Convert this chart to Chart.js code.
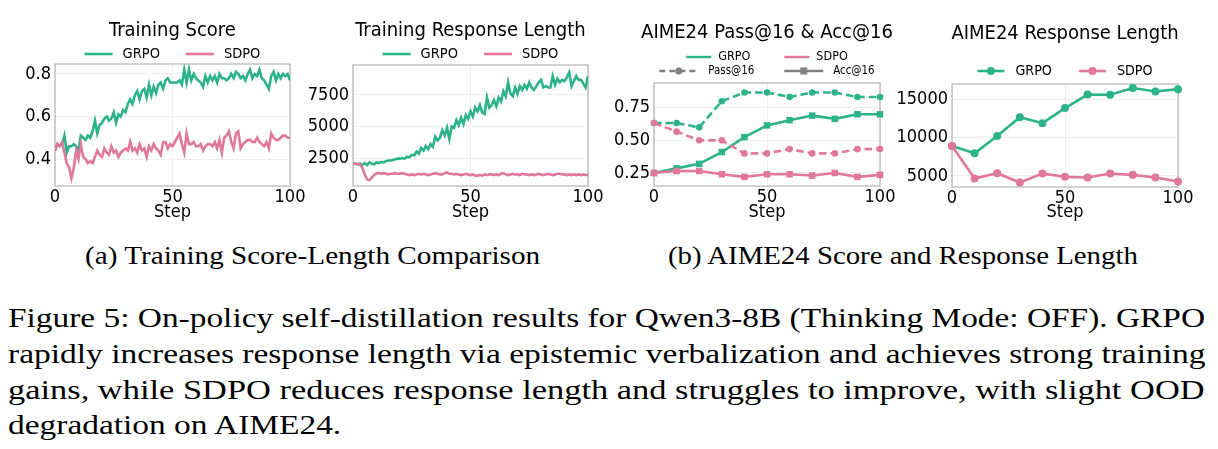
<!DOCTYPE html>
<html>
<head>
<meta charset="utf-8">
<script src="https://cdn.jsdelivr.net/npm/chart.js@4.4.1/dist/chart.umd.min.js"></script>
<style>
  html, body { margin: 0; padding: 0; background: #fff; }
  #page { position: relative; width: 1218px; height: 449px; overflow: hidden; background: #fff; }
  #page canvas { position: absolute; top: 0; }
  .sub, .cap {
    position: absolute; white-space: nowrap; color: #000;
    font-family: "Liberation Serif", "DejaVu Serif", serif;
    transform-origin: left center;
  }
  .sub { top: 241px; font-size: 26px; line-height: 30px; }
  .cap { left: 8px; font-size: 28px; line-height: 36px; }
</style>
</head>
<body>
<div id="page">
  <canvas id="scoreChart" width="345" height="225" style="left:0px"></canvas>
  <canvas id="lengthChart" width="345" height="225" style="left:298px"></canvas>
  <canvas id="aimeScoreChart" width="334" height="225" style="left:600px"></canvas>
  <canvas id="aimeLengthChart" width="340" height="225" style="left:895px"></canvas>

  <div class="sub" data-w="455" style="left:85px">(a) Training Score-Length Comparison</div>
  <div class="sub" data-w="470" style="left:668px">(b) AIME24 Score and Response Length</div>

  <div class="cap" data-w="1197" style="top:300px">Figure 5: On-policy self-distillation results for Qwen3-8B (Thinking Mode: OFF). GRPO</div>
  <div class="cap" data-w="1197" style="top:336px">rapidly increases response length via epistemic verbalization and achieves strong training</div>
  <div class="cap" data-w="1197" style="top:372px">gains, while SDPO reduces response length and struggles to improve, with slight OOD</div>
  <div class="cap" data-w="333" style="top:407px">degradation on AIME24.</div>
</div>

<script>
const FONT = "'DejaVu Sans Condensed', 'DejaVu Sans', sans-serif";
const GREEN = '#2cb38a';
const PINK = '#e0789b';
const GRAY = '#808080';

// ---- training curves (step 0..100) ----
const trainSteps = Array.from({ length: 101 }, (_, i) => i);

const grpoScore = [
  0.44, 0.47, 0.46, 0.47, 0.51, 0.43, 0.46, 0.46, 0.47, 0.46,
  0.44, 0.51, 0.50, 0.49, 0.51, 0.50, 0.53, 0.58, 0.52, 0.56,
  0.57, 0.59, 0.60, 0.58, 0.59, 0.62, 0.57, 0.61, 0.60, 0.63,
  0.62, 0.66, 0.68, 0.66, 0.70, 0.72, 0.68, 0.72, 0.73, 0.69,
  0.75, 0.70, 0.74, 0.71, 0.75, 0.76, 0.73, 0.77, 0.78, 0.76,
  0.76, 0.76, 0.76, 0.77, 0.75, 0.82, 0.76, 0.82, 0.77, 0.80,
  0.78, 0.77, 0.76, 0.74, 0.79, 0.76, 0.79, 0.77, 0.79, 0.76,
  0.80, 0.78, 0.78, 0.77, 0.78, 0.80, 0.78, 0.81, 0.80, 0.78,
  0.79, 0.77, 0.80, 0.82, 0.78, 0.80, 0.79, 0.82, 0.78, 0.77,
  0.75, 0.73, 0.79, 0.81, 0.77, 0.80, 0.78, 0.80, 0.79, 0.80,
  0.77
];
const sdpoScore = [
  0.44, 0.47, 0.46, 0.48, 0.43, 0.38, 0.36, 0.31, 0.36, 0.44,
  0.40, 0.47, 0.41, 0.40, 0.38, 0.39, 0.38, 0.41, 0.44, 0.42,
  0.41, 0.45, 0.43, 0.42, 0.46, 0.43, 0.44, 0.41, 0.43, 0.44,
  0.45, 0.44, 0.48, 0.44, 0.45, 0.43, 0.47, 0.44, 0.45, 0.41,
  0.46, 0.44, 0.47, 0.45, 0.44, 0.42, 0.48, 0.48, 0.45, 0.47,
  0.46, 0.48, 0.50, 0.52, 0.47, 0.43, 0.52, 0.47, 0.47, 0.48,
  0.46, 0.46, 0.47, 0.44, 0.46, 0.47, 0.47, 0.46, 0.48, 0.45,
  0.49, 0.43, 0.50, 0.51, 0.53, 0.48, 0.45, 0.52, 0.53, 0.45,
  0.47, 0.48, 0.49, 0.49, 0.48, 0.48, 0.50, 0.48, 0.47, 0.46,
  0.48, 0.45, 0.52, 0.50, 0.49, 0.49, 0.50, 0.51, 0.51, 0.50,
  0.50
];
const grpoTrainLen = [
  2050, 2050, 2000, 2050, 1950, 2100, 1950, 2150, 2050, 2000,
  2150, 2100, 2200, 2150, 2250, 2300, 2300, 2350, 2400, 2450,
  2450, 2500, 2450, 2600, 2550, 2750, 2700, 3000, 2850, 3300,
  3100, 3450, 3200, 3600, 3400, 4200, 3900, 4100, 4700, 4300,
  4900, 4000, 5000, 4900, 5500, 5100, 5700, 5200, 5900, 5600,
  6200, 5800, 6500, 6200, 6700, 6100, 6000, 7300, 6500, 6700,
  7100, 6600, 7300, 7000, 7800, 7400, 8500, 7600, 7400, 8100,
  7600, 8200, 7900, 8300, 8000, 8500, 8100, 7900, 8200, 8500,
  8700, 8100, 8200, 8100, 8100, 9000, 8300, 8800, 8500, 8700,
  8600, 8900, 9300, 8200, 8600, 9000, 8700, 8700, 8400, 8100,
  9000
];
const sdpoTrainLen = [
  2050, 2050, 2050, 2000, 1700, 1200, 800, 750, 950, 1150,
  1300, 1300, 1250, 1300, 1250, 1200, 1250, 1250, 1300, 1250,
  1250, 1300, 1250, 1200, 1150, 1200, 1150, 1200, 1250, 1200,
  1250, 1200, 1150, 1200, 1250, 1300, 1250, 1200, 1200, 1300,
  1350, 1250, 1250, 1200, 1250, 1200, 1150, 1200, 1250, 1200,
  1150, 1200, 1100, 1100, 1150, 1100, 1200, 1150, 1200, 1200,
  1150, 1200, 1150, 1250, 1300, 1200, 1150, 1200, 1250, 1200,
  1200, 1150, 1250, 1200, 1200, 1150, 1200, 1150, 1200, 1250,
  1200, 1150, 1200, 1250, 1200, 1150, 1200, 1250, 1250, 1200,
  1200, 1150, 1200, 1150, 1200, 1150, 1200, 1150, 1200, 1150,
  1150
];

// ---- AIME24 evaluation (every 10 steps) ----
const evalSteps = [0, 10, 20, 30, 40, 50, 60, 70, 80, 90, 100];
const grpoPass = [0.633, 0.633, 0.600, 0.800, 0.867, 0.867, 0.833, 0.867, 0.867, 0.833, 0.833];
const grpoAcc = [0.250, 0.285, 0.320, 0.410, 0.525, 0.615, 0.655, 0.690, 0.665, 0.700, 0.700];
const sdpoPass = [0.633, 0.567, 0.500, 0.500, 0.400, 0.400, 0.433, 0.400, 0.400, 0.433, 0.433];
const sdpoAcc = [0.250, 0.265, 0.265, 0.240, 0.220, 0.240, 0.240, 0.230, 0.250, 0.220, 0.235];
const grpoEvalLen = [8900, 7950, 10200, 12650, 11870, 13830, 15600, 15570, 16440, 16000, 16300];
const sdpoEvalLen = [8900, 4650, 5350, 4130, 5300, 4870, 4780, 5300, 5130, 4780, 4260];

// ---- ticks ----
const stepTicks = [0, 50, 100];
const scoreTicks = [0.4, 0.6, 0.8];
const scoreTickLabels = ['0.4', '0.6', '0.8'];
const trainLenTicks = [2500, 5000, 7500];
const trainLenTickLabels = ['2500', '5000', '7500'];
const aimeScoreTicks = [0.25, 0.5, 0.75];
const aimeScoreTickLabels = ['0.25', '0.50', '0.75'];
const aimeLenTicks = [5000, 10000, 15000];
const aimeLenTickLabels = ['5000', '10000', '15000'];

const toPoints = (xs, ys) => xs.map((x, i) => ({ x: x, y: ys[i] }));

// plot frame on all four sides, like matplotlib spines
const frame = {
  id: 'frame',
  beforeDatasetsDraw(chart) {
    const a = chart.chartArea, ctx = chart.ctx;
    ctx.save();
    ctx.strokeStyle = '#b4b4b4';
    ctx.lineWidth = 1.2;
    ctx.strokeRect(a.left, a.top, a.right - a.left, a.bottom - a.top);
    ctx.restore();
  }
};

function drawKey(ctx, x, y, k) {
  ctx.save();
  ctx.strokeStyle = k.color;
  ctx.fillStyle = k.color;
  ctx.lineWidth = k.lw || 2.2;
  ctx.setLineDash(k.dash || []);
  ctx.beginPath();
  ctx.moveTo(x, y);
  ctx.lineTo(x + k.len, y);
  ctx.stroke();
  ctx.setLineDash([]);
  if (k.marker === 'circle') {
    ctx.beginPath();
    ctx.arc(x + k.len / 2, y, k.size, 0, Math.PI * 2);
    ctx.fill();
  } else if (k.marker === 'square') {
    ctx.fillRect(x + k.len / 2 - k.size, y - k.size, 2 * k.size, 2 * k.size);
  }
  ctx.restore();
}

// draws the line/marker symbols into the legend boxes (+ optional style row)
const legendKeys = {
  id: 'legendKeys',
  beforeLayout(chart, args, opts) {
    const lg = chart.legend;
    if (lg && !lg._trimmed) {
      const fit = lg.fit;
      lg.fit = function () { fit.call(this); this.height += (opts.trim || 0); };
      lg._trimmed = true;
    }
  },
  afterDraw(chart, args, opts) {
    const ctx = chart.ctx;
    const lg = chart.legend;
    if (opts.keys && lg && lg.legendHitBoxes) {
      lg.legendHitBoxes.forEach((hb, i) => {
        drawKey(ctx, hb.left, hb.top + hb.height / 2, opts.keys[i]);
      });
    }
    if (opts.extra) {
      const e = opts.extra;
      ctx.save();
      ctx.font = e.size + 'px ' + FONT;
      const widths = e.items.map(it => it.key.len + e.gap + ctx.measureText(it.text).width);
      const total = widths.reduce((a, b) => a + b, 0) + e.spacing * (widths.length - 1);
      const area = chart.chartArea;
      let x = (area.left + area.right) / 2 - total / 2;
      const y = area.top - e.offset;
      e.items.forEach((it, i) => {
        drawKey(ctx, x, y, it.key);
        ctx.fillStyle = '#000';
        ctx.textBaseline = 'middle';
        ctx.textAlign = 'left';
        ctx.fillText(it.text, x + it.key.len + e.gap, y);
        x += widths[i] + e.spacing;
      });
      ctx.restore();
    }
  }
};

function makeChart(id, c) {
  const scales = {
    x: {
      type: 'linear', min: 0, max: 100,
      afterBuildTicks: s => { s.ticks = stepTicks.map(v => ({ value: v })); },
      ticks: { color: '#000', font: { family: FONT, size: 18 }, padding: 1, maxRotation: 0, autoSkip: false },
      grid: { color: '#eeeeee', lineWidth: 1, drawTicks: false },
      border: { display: false },
      title: { display: true, text: 'Step', color: '#000', font: { family: FONT, size: 18 }, padding: { top: 0, bottom: 0 } },
      afterFit: s => { s.height = c.xh; }
    },
    y: {
      type: 'linear', min: c.yMin, max: c.yMax,
      afterBuildTicks: s => { s.ticks = c.yTicks.map(v => ({ value: v })); },
      ticks: { color: '#000', font: { family: FONT, size: 18 }, padding: 4, callback: (v, i) => c.yLabels[i] },
      grid: { color: '#eeeeee', lineWidth: 1, drawTicks: false },
      border: { display: false },
      afterFit: s => { s.width = c.yw; }
    },
    yr: {
      type: 'linear', position: 'right', display: true,
      ticks: { display: false }, grid: { display: false }, border: { display: false },
      afterFit: s => { s.width = c.yw; }
    }
  };
  if (c.topGap) {
    scales.xt = {
      type: 'linear', position: 'top', display: true,
      ticks: { display: false }, grid: { display: false }, border: { display: false },
      afterFit: s => { s.height = c.topGap; }
    };
  }
  return new Chart(document.getElementById(id), {
    type: 'line',
    data: { datasets: c.datasets },
    plugins: [frame, legendKeys],
    options: {
      responsive: false,
      animation: false,
      devicePixelRatio: 1,
      layout: { padding: { top: 0, left: 0, right: 0, bottom: c.padBottom } },
      scales: scales,
      plugins: {
        title: {
          display: true, text: c.title, color: '#000',
          font: { family: FONT, size: 20, weight: 'normal' },
          padding: { top: c.titleTop, bottom: c.titleBottom }
        },
        legend: {
          display: true, position: 'top',
          labels: {
            color: '#000',
            font: { family: FONT, size: c.legendSize },
            boxWidth: c.boxWidth, boxHeight: 4,
            padding: c.legendPad,
            generateLabels: () => c.legendText.map((t, i) => ({
              text: t, fillStyle: 'rgba(0,0,0,0)', strokeStyle: 'rgba(0,0,0,0)',
              lineWidth: 0, hidden: false, datasetIndex: i, fontColor: '#000'
            }))
          }
        },
        legendKeys: { keys: c.keys, trim: c.trim || 0, extra: c.extra },
        tooltip: { enabled: false }
      }
    }
  });
}

const lineDs = (label, xs, ys, color, order) => ({
  label: label, data: toPoints(xs, ys), borderColor: color, backgroundColor: color,
  borderWidth: 2.6, pointRadius: 0, tension: 0, order: order
});

// (a) training score
makeChart('scoreChart', {
  title: 'Training Score', titleTop: 19, titleBottom: -22.25,
  legendText: ['GRPO', 'SDPO'], legendSize: 14.5, legendPad: 26, boxWidth: 30.75, trim: -7.25,
  keys: [{ color: GREEN, len: 28, lw: 2.6 }, { color: PINK, len: 28, lw: 2.6 }],
  yMin: 0.273, yMax: 0.847, yTicks: scoreTicks, yLabels: scoreTickLabels, yw: 55,
  xh: 37, padBottom: 2,
  datasets: [
    lineDs('GRPO', trainSteps, grpoScore, GREEN, 2),
    lineDs('SDPO', trainSteps, sdpoScore, PINK, 1)
  ]
});

// (a) training response length
makeChart('lengthChart', {
  title: 'Training Response Length', titleTop: 19, titleBottom: -22.25,
  legendText: ['GRPO', 'SDPO'], legendSize: 14.5, legendPad: 26, boxWidth: 30.75, trim: -6.25,
  keys: [{ color: GREEN, len: 28, lw: 2.6 }, { color: PINK, len: 28, lw: 2.6 }],
  yMin: 280, yMax: 9880, yTicks: trainLenTicks, yLabels: trainLenTickLabels, yw: 55,
  xh: 37, padBottom: 2,
  datasets: [
    lineDs('GRPO', trainSteps, grpoTrainLen, GREEN, 2),
    lineDs('SDPO', trainSteps, sdpoTrainLen, PINK, 1)
  ]
});

const evalDs = (label, ys, color, dashed, marker, r, order) => ({
  label: label, data: toPoints(evalSteps, ys), borderColor: color, backgroundColor: color,
  borderWidth: 2.6, borderDash: dashed ? [7.5, 4] : [], tension: 0, clip: false,
  pointStyle: marker, pointRadius: r, pointBorderWidth: 0, order: order
});

// (b) AIME24 pass@16 / acc@16
makeChart('aimeScoreChart', {
  title: 'AIME24 Pass@16 & Acc@16', titleTop: 21, titleBottom: -28.25,
  legendText: ['GRPO', 'SDPO'], legendSize: 12.5, legendPad: 34, boxWidth: 25.75,
  keys: [{ color: GREEN, len: 25, lw: 2.4 }, { color: PINK, len: 25, lw: 2.4 }],
  extra: {
    size: 11.4, gap: 10, spacing: 30, offset: 12,
    items: [
      { text: 'Pass@16', key: { color: GRAY, len: 39, lw: 2.4, dash: [6, 4], marker: 'circle', size: 3.5 } },
      { text: 'Acc@16', key: { color: GRAY, len: 39, lw: 2.4, marker: 'square', size: 3.5 } }
    ]
  },
  topGap: 9.75,
  yMin: 0.15, yMax: 0.94, yTicks: aimeScoreTicks, yLabels: aimeScoreTickLabels, yw: 54,
  xh: 37, padBottom: 2,
  datasets: [
    evalDs('GRPO Pass@16', grpoPass, GREEN, true, 'circle', 3.3, 4),
    evalDs('GRPO Acc@16', grpoAcc, GREEN, false, 'rect', 4.6, 3),
    evalDs('SDPO Pass@16', sdpoPass, PINK, true, 'circle', 3.3, 2),
    evalDs('SDPO Acc@16', sdpoAcc, PINK, false, 'rect', 4.6, 1)
  ]
});

// (b) AIME24 response length
makeChart('aimeLengthChart', {
  title: 'AIME24 Response Length', titleTop: 22, titleBottom: -9.1,
  legendText: ['GRPO', 'SDPO'], legendSize: 14.2, legendPad: 27, boxWidth: 30.9, trim: -4.1,
  keys: [
    { color: GREEN, len: 27, lw: 2.6, marker: 'circle', size: 4 },
    { color: PINK, len: 27, lw: 2.6, marker: 'circle', size: 4 }
  ],
  yMin: 3550, yMax: 16970, yTicks: aimeLenTicks, yLabels: aimeLenTickLabels, yw: 57,
  xh: 36, padBottom: 2,
  datasets: [
    evalDs('GRPO', grpoEvalLen, GREEN, false, 'circle', 4, 2),
    evalDs('SDPO', sdpoEvalLen, PINK, false, 'circle', 4, 1)
  ]
});

// stretch the caption lines to the widths of the typeset original
document.querySelectorAll('[data-w]').forEach(el => {
  el.style.transform = 'scaleX(' + (Number(el.dataset.w) / el.offsetWidth) + ')';
});
</script>
</body>
</html>
